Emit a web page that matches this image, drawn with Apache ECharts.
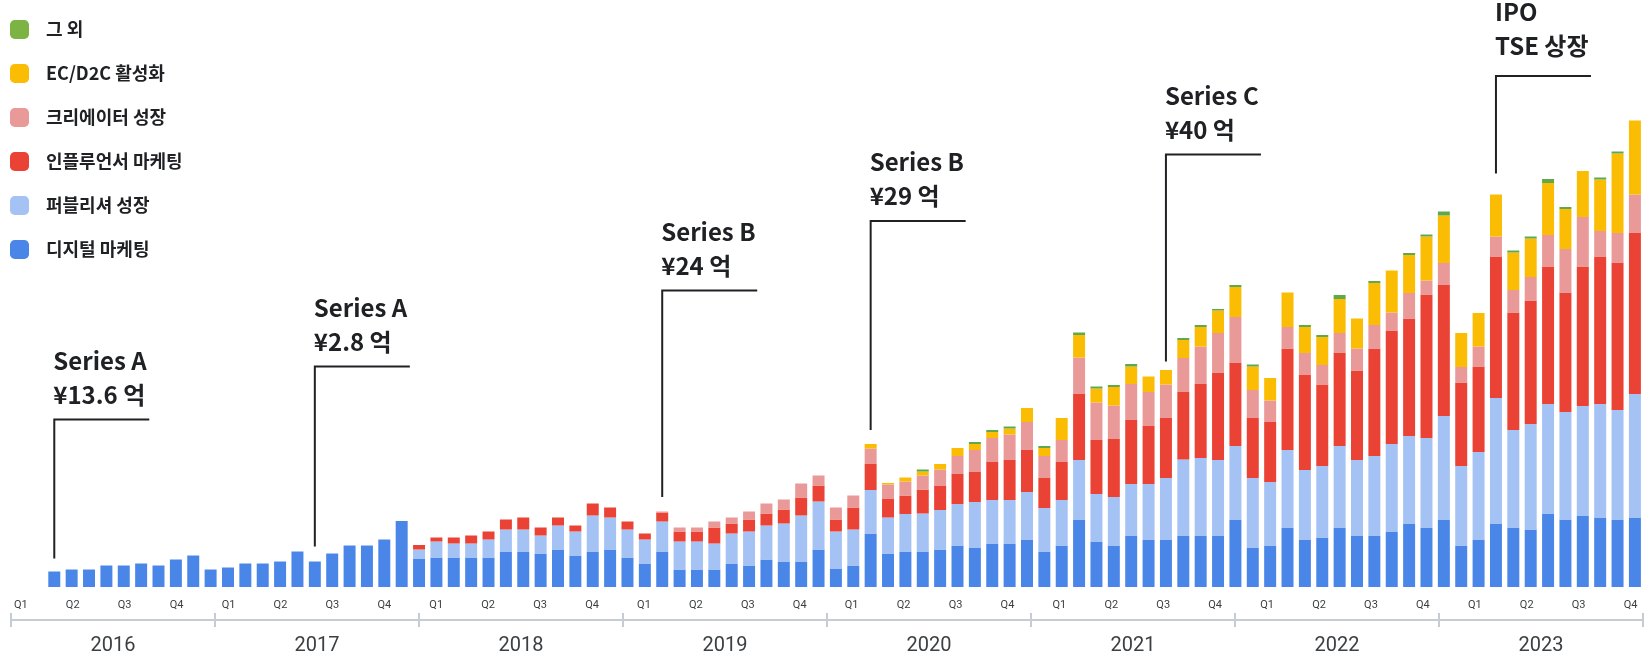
<!DOCTYPE html>
<html><head><meta charset="utf-8">
<script src="https://cdn.jsdelivr.net/npm/echarts@6/dist/echarts.min.js"></script>
<style>html,body{margin:0;padding:0;background:#fff}#c{width:1651px;height:661px}</style>
</head><body><div id="c"></div>
<script>
// ---- categories (one bar per month, May 2016 .. Dec 2023) ----
const categories = [];
for (let y = 2016; y <= 2023; y++) {
  for (let m = (y === 2016 ? 5 : 1); m <= 12; m++) categories.push(y + '-' + String(m).padStart(2, '0'));
}
const years = ['2016','2017','2018','2019','2020','2021','2022','2023'];
const quarters = ['Q1','Q2','Q3','Q4'];

const seriesNames = ['디지털 마케팅','퍼블리셔 성장','인플루언서 마케팅','크리에이터 성장','EC/D2C 활성화','그 외'];
const seriesColors = ['#4a86e8','#a4c2f4','#ea4335','#ea9999','#fbbc04','#5fa84c'];

const digital = [3.1,3.5,3.5,4.3,4.3,4.7,4.3,5.5,6.3,3.5,3.9,4.7,4.7,5.1,7.1,5.1,6.7,8.3,8.3,9.5,13.2,
  5.6,5.9,5.9,5.9,5.9,7.1,7.1,6.7,7.5,6.3,7.1,7.5,5.9,4.7,7.1,3.5,3.5,3.5,4.7,4.3,5.5,5.1,5.1,7.5,3.6,4.3,
  10.7,6.7,7.1,7.1,7.5,8.3,7.9,8.7,8.7,9.5,7.1,8.3,13.5,9.1,8.3,10.3,9.5,9.5,
  10.3,10.3,10.3,13.5,7.9,8.3,11.9,9.5,9.9,11.9,10.3,10.3,11.1,12.7,11.9,13.5,8.3,9.5,12.7,11.9,11.5,14.7,13.5,14.3,13.9,13.5,13.9];
const publisher = [0,0,0,0,0,0,0,0,0,0,0,0,0,0,0,0,0,0,0,0,0,
  1.9,3.2,2.8,2.8,3.6,4.4,4.4,3.6,4.8,4.8,7.2,6.4,5.6,4.8,6.0,5.6,5.6,5.2,6.0,6.8,6.8,7.6,9.2,9.6,7.5,7.2,
  8.7,7.2,7.5,7.6,7.9,8.3,9.1,8.7,8.7,9.5,8.7,9.1,11.9,9.5,9.7,10.3,11.1,12.3,
  15.2,15.5,15.1,14.7,13.9,12.7,15.5,13.9,14.3,16.3,15.1,15.9,17.5,17.5,17.9,20.7,15.9,17.5,25.1,19.5,21.1,21.9,21.5,21.9,22.7,21.9,24.7];
const influencer = [0,0,0,0,0,0,0,0,0,0,0,0,0,0,0,0,0,0,0,0,0,
  0.9,0.8,1.2,1.6,1.6,2.0,2.4,1.6,1.6,1.2,2.4,2.0,1.6,1.2,1.8,2.0,2.0,3.2,2.0,2.4,2.4,2.8,3.6,3.2,2.4,4.4,
  5.2,3.7,3.7,4.8,4.8,6.0,6.0,7.6,8.0,8.4,6.0,7.6,13.2,10.8,11.6,12.8,11.6,12.0,
  13.5,14.8,17.5,16.7,12.0,12.0,20.3,19.1,16.3,18.7,17.9,21.5,22.7,23.5,28.7,26.3,16.7,17.1,28.3,23.5,24.7,27.5,23.9,27.9,29.5,29.5,32.3];
const creator = [0,0,0,0,0,0,0,0,0,0,0,0,0,0,0,0,0,0,0,0,0,
  0,0,0,0,0,0,0,0,0,0,0,0,0,0,0.2,0.8,0.8,1.2,1.2,1.6,2.0,2.0,2.8,2.0,2.4,2.4,
  3.1,2.9,2.8,2.8,3.3,3.6,4.4,4.8,5.1,5.6,4.4,4.4,7.3,7.5,6.7,7.2,6.8,6.7,
  6.8,7.5,7.9,9.1,5.6,4.3,4.3,4.3,3.9,3.9,4.4,4.7,3.6,5.1,2.8,4.3,3.1,4.0,4.0,4.5,4.7,6.3,8.7,9.9,5.1,5.9,7.6];
const ecD2c = [0,0,0,0,0,0,0,0,0,0,0,0,0,0,0,0,0,0,0,0,0,
  0,0,0,0,0,0,0,0,0,0,0,0,0,0,0,0,0,0,0,0,0,0,0,0,0,0,
  0.9,0.3,0.8,0.8,1.1,1.6,1.2,1.2,1.2,2.8,1.6,4.4,4.5,2.8,3.7,3.5,3.1,2.9,
  3.6,3.9,4.5,6.0,4.7,4.5,6.9,5.2,5.6,6.8,6.0,8.4,8.4,7.6,8.8,9.5,6.8,6.7,8.4,7.5,7.7,10.4,8.0,9.2,10.3,15.9,14.8];
const other = [0,0,0,0,0,0,0,0,0,0,0,0,0,0,0,0,0,0,0,0,0,
  0,0,0,0,0,0,0,0,0,0,0,0,0,0,0,0,0,0,0,0,0,0,0,0,0,0,
  0,0,0,0.4,0,0,0.4,0.4,0.4,0,0.4,0,0.5,0.4,0.4,0.5,0,0,
  0.4,0.4,0.3,0.4,0.4,0,0,0.4,0.4,0.8,0,0.4,0,0.4,0.4,0.8,0,0,0,0.4,0.4,0.8,0.4,0,0.4,0.4,0];
const seriesValues = [digital, publisher, influencer, creator, ecD2c, other];

// ---- funding annotations ----
const annotIndex  = [0, 15, 35, 47, 64, 83];
const annotTitle  = ['Series A','Series A','Series B','Series B','Series C','IPO'];
const annotAmount = ['¥13.6 억','¥2.8 억','¥24 억','¥29 억','¥40 억','TSE 상장'];
const annotBase   = [5.7, 8.1, 18.0, 31.4, 45.1, 82.7];
const annotTop    = [33.5, 44.1, 59.3, 73.2, 86.5, 102.2];

const ink = '#202124';
const axisGray = '#c5ccd4';
const cjk = '"Noto Sans CJK KR", "Noto Sans", sans-serif';
const annotTextLift = [0, 0, 0, 0, 0, 5];

const chart = echarts.init(document.getElementById('c'), null, {renderer: 'canvas'});

const barSeries = seriesNames.map((name, i) => ({
  name, type: 'bar', stack: 'total', xAxisIndex: 0, yAxisIndex: 0,
  barCategoryGap: '31%',
  itemStyle: {color: seriesColors[i]},
  data: seriesValues[i]
}));

const annotData = annotIndex.map((idx, i) => [idx, annotBase[i], annotTop[i]]);

const annotSeries = {
  type: 'custom', xAxisIndex: 0, yAxisIndex: 0, silent: true, z: 10,
  data: annotData,
  renderItem(params, api) {
    const i = params.dataIndex;
    const p0 = api.coord([api.value(0), api.value(1)]);
    const p1 = api.coord([api.value(0), api.value(2)]);
    const x = p0[0];
    return {
      type: 'group',
      children: [
        {type: 'polyline', shape: {points: [[x, p0[1]], [x, p1[1]], [x + 95, p1[1]]]},
         style: {stroke: ink, lineWidth: 2, fill: null}},
        {type: 'text', x: x - 1, y: p1[1] - 8 - annotTextLift[i],
         style: {text: annotTitle[i] + '\n' + annotAmount[i], fontSize: 24, fontWeight: 'bold',
                 fontFamily: cjk, fill: ink, align: 'left', verticalAlign: 'bottom', lineHeight: 34}}
      ]
    };
  }
};

const legendOrder = ['그 외','EC/D2C 활성화','크리에이터 성장','인플루언서 마케팅','퍼블리셔 성장','디지털 마케팅'];

chart.setOption({
  animation: false,
  backgroundColor: '#ffffff',
  legend: {
    orient: 'vertical', left: 10, top: 20, padding: 0, itemWidth: 19, itemHeight: 19, itemGap: 25,
    icon: 'roundRect', selectedMode: false,
    textStyle: {fontFamily: cjk, fontWeight: 'bold', fontSize: 18, color: ink, padding: [0, 0, 0, 12]},
    data: legendOrder.map(n => n === '그 외' ? {name: n, itemStyle: {color: '#7cb342'}} : n)
  },
  grid: [
    {left: 45.6, right: 7.4, top: 7, bottom: 74},
    {left: 11, width: 1632, top: 613, height: 7},
    {left: 20.8, width: 1609.8, top: 580, height: 15}
  ],
  xAxis: [
    {gridIndex: 0, type: 'category', data: categories, show: false},
    {gridIndex: 1, type: 'category', data: years, position: 'bottom',
     axisLine: {show: true, lineStyle: {color: axisGray, width: 2}},
     axisTick: {show: true, inside: true, length: 7, lineStyle: {color: axisGray, width: 2}},
     axisLabel: {show: false}, splitLine: {show: false}},
    {gridIndex: 1, type: 'category', data: years, position: 'bottom',
     axisLine: {show: false},
     axisTick: {show: true, length: 7, lineStyle: {color: axisGray, width: 2}},
     axisLabel: {show: true, interval: 0, margin: 16, fontSize: 20, fontFamily: 'Roboto', color: '#3c4043'},
     splitLine: {show: false}},
    {gridIndex: 2, type: 'value', min: 0, max: 31, interval: 1, position: 'bottom',
     axisLine: {show: false}, axisTick: {show: false}, splitLine: {show: false},
     axisLabel: {margin: 5, fontSize: 11, fontFamily: 'Roboto', color: '#3c4043',
                 formatter: v => quarters[v % 4]}}
  ],
  yAxis: [
    {gridIndex: 0, type: 'value', min: 0, max: 116, show: false},
    {gridIndex: 1, type: 'value', show: false},
    {gridIndex: 2, type: 'value', show: false}
  ],
  series: barSeries.concat([annotSeries])
});
</script></body></html>
